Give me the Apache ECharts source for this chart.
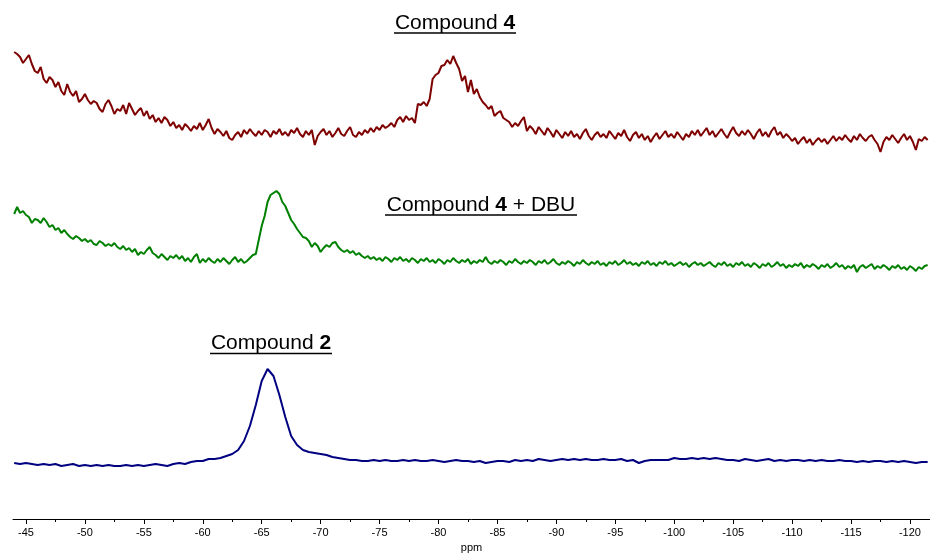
<!DOCTYPE html>
<html>
<head>
<meta charset="utf-8">
<script src="https://cdn.jsdelivr.net/npm/echarts@6/dist/echarts.min.js"></script>
<style>
  html, body { margin: 0; padding: 0; background: #fff; }
  #main { width: 930px; height: 555px; }
</style>
</head>
<body>
<div id="main"></div>
<script>
// chemical shift sampling grids (ppm)
var ppmFine = [];   // -44 .. -121.5, 0.25 ppm steps
for (var i = 0; i < 311; i++) ppmFine.push(-44 - i * 0.25);
var ppmCoarse = []; // -44 .. -121.5, 0.5 ppm steps
for (var j = 0; j < 156; j++) ppmCoarse.push(-44 - j * 0.5);

// intensities (arbitrary units, above each trace's own baseline)
var compound4 = [
  97, 95, 92, 86,  90, 94, 85, 78,  76, 82, 70, 66,  72, 69, 62, 67,  58, 54, 65, 57,
  53, 58, 47, 50,  55, 49, 45, 48,  46, 40, 37, 45,  49, 43, 35, 40,  38, 44, 35, 46,
  40, 34, 38, 41,  33, 38, 30, 34,  27, 31, 26, 32,  29, 23, 27, 21,  24, 19, 25, 22,
  18, 23, 20, 26,  19, 24, 30, 21,  15, 20, 17, 13,  18, 11, 9, 14,   17, 12, 19, 15,
  20, 16, 13, 18,  14, 19, 17, 12,  18, 15, 20, 14,  17, 13, 19, 16,  21, 15, 12, 18,
  14, 19, 4, 13,   17, 20, 14, 18,  12, 16, 21, 15,  13, 18, 22, 14,  12, 17, 14, 19,
  16, 21, 17, 22,  19, 24, 21, 23,  26, 22, 29, 32,  27, 33, 29, 31,  26, 45, 44, 47,
  43, 50, 70, 74,  76, 83, 84, 89,  85, 93, 86, 80,  68, 73, 57, 69,  55, 60, 52, 47,
  44, 40, 43, 33,  36, 38, 31, 29,  27, 22, 26, 23,  28, 32, 18, 23,  20, 15, 22, 18,
  14, 21, 17, 12,  19, 15, 11, 17,  13, 18, 12, 15,  10, 16, 20, 13,  9, 14, 17, 12,
  15, 11, 18, 14,  10, 16, 13, 19,  12, 8, 14, 17,   11, 15, 9, 13,   7, 12, 16, 10,
  14, 18, 12, 15,  11, 17, 13, 9,   15, 12, 18, 14,  19, 13, 17, 21,  14, 18, 12, 16,
  20, 15, 11, 17,  22, 16, 13, 18,  14, 19, 15, 10,  16, 20, 13, 17,  12, 18, 22, 14,
  17, 11, 15, 12,  8, 11, 5, 9,     12, 6, 10, 4,    8, 11, 7, 10,    5, 9, 13, 8,
  12, 9, 14, 10,   7, 13, 9, 15,    11, 8, 12, 14,   9, 5, -3, 7,     12, 9, 14, 10,
  6, 11, 15, 9,    13, 7, -1, 10,   8, 12, 9
];
var compound4Dbu = [
  60, 67, 61, 63,  59, 57, 51, 55,  54, 51, 56, 52,  47, 49, 44, 46,  41, 44, 40, 37,
  35, 38, 36, 33,  35, 32, 34, 30,  29, 33, 31, 28,  30, 28, 31, 27,  25, 28, 24, 26,
  22, 25, 19, 22,  20, 24, 27, 21,  19, 16, 20, 17,  14, 18, 16, 19,  15, 18, 13, 16,
  12, 17, 20, 11,  15, 12, 16, 13,  11, 15, 12, 16,  13, 10, 14, 17,  12, 15, 11, 13,
  16, 19, 20, 34,  48, 58, 72, 79,  81, 83, 80, 72,  68, 61, 54, 50,  45, 41, 37, 36,
  33, 27, 31, 28,  22, 26, 29, 27,  31, 32, 27, 24,  22, 24, 21, 23,  19, 21, 18, 16,
  18, 15, 17, 14,  16, 13, 17, 15,  12, 16, 14, 17,  13, 15, 12, 16,  14, 11, 15, 13,
  16, 12, 14, 11,  15, 13, 10, 14,  12, 16, 13, 11,  14, 12, 15, 10,  13, 11, 14, 12,
  17, 12, 10, 13,  11, 14, 12, 9,   13, 11, 15, 12,  10, 13, 11, 14,  12, 9, 13, 11,
  14, 10, 12, 15,  11, 9, 12, 10,   13, 11, 8, 12,   10, 14, 11, 9,   12, 10, 13, 9,
  11, 8, 12, 10,   13, 9, 11, 14,   10, 12, 9, 11,   8, 12, 10, 13,   9, 11, 8, 12,
  10, 13, 9, 11,   8, 10, 12, 9,    11, 7, 10, 12,   9, 11, 8, 10,    12, 9, 7, 11,
  9, 12, 8, 10,    7, 11, 9, 12,    8, 10, 7, 11,    9, 6, 10, 8,     11, 7, 9, 12,
  8, 10, 6, 9,     7, 10, 8, 11,    6, 9, 7, 10,     8, 5, 9, 7,      10, 6, 8, 11,
  7, 9, 5, 8,      6, 9, 2, 7,      9, 6, 8, 10,     5, 8, 6, 9,      7, 4, 8, 6,
  9, 5, 7, 4,      8, 6, 3, 7,      5, 8, 9
];
var compound2 = [
  6, 5, 6, 5, 4, 5, 4, 5, 3, 4, 5, 3, 4, 3, 4, 3, 4, 3, 3, 4,
  3, 4, 3, 4, 5, 4, 3, 5, 6, 5, 7, 8, 8, 10, 10, 11, 13, 15, 19, 28,
  43, 64, 88, 100, 93, 74, 52, 33, 24, 19, 17, 16, 15, 14, 12, 11, 10, 9, 9, 8,
  8, 9, 8, 9, 8, 8, 9, 8, 9, 8, 8, 9, 8, 7, 8, 9, 8, 8, 7, 8,
  6, 7, 8, 8, 7, 9, 8, 9, 8, 10, 9, 8, 9, 10, 9, 10, 9, 10, 9, 9,
  10, 9, 9, 10, 8, 9, 6, 8, 9, 9, 9, 9, 11, 10, 10, 11, 10, 11, 10, 11,
  10, 9, 9, 8, 10, 9, 8, 9, 10, 8, 9, 8, 9, 9, 8, 9, 8, 9, 8, 8,
  9, 8, 8, 7, 8, 7, 8, 8, 7, 8, 7, 8, 7, 6, 7, 7
];

// stacking: vertical offset of each trace
var names = ['Compound 4', 'Compound 4 + DBU', 'Compound 2'];
var colors = ['#7f0000', '#008000', '#000080'];
var offsets = [370, 245, 50];
var spectra = [compound4, compound4Dbu, compound2];
var grids = [ppmFine, ppmFine, ppmCoarse];

// axis ticks
var majorTicks = [];
for (var t = -45; t >= -120; t -= 5) majorTicks.push(t);
var minorTicks = [];
for (var m = -47.5; m >= -120; m -= 5) minorTicks.push(m);

var font = 'Liberation Sans, Arial, Helvetica, sans-serif';

function makeSeries(k) {
  var d = [];
  for (var n = 0; n < grids[k].length; n++) {
    d.push([grids[k][n], spectra[k][n] + offsets[k]]);
  }
  return {
    name: names[k],
    type: 'line',
    data: d,
    showSymbol: false,
    symbol: 'none',
    lineStyle: { color: colors[k], width: 2 },
    itemStyle: { color: colors[k] },
    animation: false
  };
}

function label(x, y, num, tail) {
  return {
    type: 'text',
    x: x,
    y: y,
    style: {
      text: '{a|Compound }{b|' + num + '}' + (tail ? '{a|' + tail + '}' : ''),
      align: 'center',
      verticalAlign: 'middle',
      rich: {
        a: { fontSize: 21, fontFamily: font, fill: '#000' },
        b: { fontSize: 21, fontFamily: font, fontWeight: 'bold', fill: '#000' }
      }
    }
  };
}
function underline(x1, x2, y) {
  return {
    type: 'line',
    shape: { x1: x1, y1: y, x2: x2, y2: y },
    style: { stroke: '#000', lineWidth: 1.3 }
  };
}

var chart = echarts.init(document.getElementById('main'));
var option = {
  backgroundColor: '#fff',
  animation: false,
  grid: { left: 13, right: 0, top: 0, bottom: 36, outerBoundsMode: 'none', containLabel: false },
  xAxis: [
    {
      type: 'value',
      inverse: true,
      min: -121.7,
      max: -43.9,
      position: 'bottom',
      name: 'ppm',
      nameLocation: 'middle',
      nameGap: 23,
      nameTextStyle: { fontSize: 11, fontFamily: font, color: '#000' },
      axisLine: { show: true, lineStyle: { color: '#000', width: 1 } },
      axisTick: { show: true, length: 5, customValues: majorTicks, lineStyle: { color: '#000' } },
      axisLabel: { customValues: majorTicks, fontSize: 11, fontFamily: font, color: '#000', margin: 8 },
      splitLine: { show: false }
    },
    {
      type: 'value',
      inverse: true,
      min: -121.7,
      max: -43.9,
      position: 'bottom',
      offset: 0,
      axisLine: { show: false },
      axisTick: { show: true, length: 3, customValues: minorTicks, lineStyle: { color: '#000' } },
      axisLabel: { show: false },
      splitLine: { show: false }
    }
  ],
  yAxis: { type: 'value', min: 0, max: 519, show: false },
  series: [makeSeries(0), makeSeries(1), makeSeries(2)],
  graphic: [
    label(455, 23, '4'),
    underline(394, 516, 33),
    label(481, 205.5, '4', ' + DBU'),
    underline(385, 577, 215),
    label(271, 343.5, '2'),
    underline(210, 332, 353.5)
  ]
};
chart.setOption(option);
</script>
</body>
</html>
